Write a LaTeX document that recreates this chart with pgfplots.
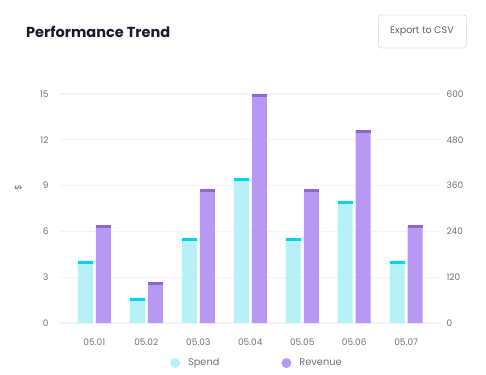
\documentclass[border=0pt]{standalone}
\usepackage{fontspec}
\setmainfont{Poppins}
\usepackage{pgfplots}
\pgfplotsset{compat=1.18}
\definecolor{spendc}{HTML}{B8F0F8}
\definecolor{spendcap}{HTML}{00D4F2}
\definecolor{revc}{HTML}{B799F4}
\definecolor{revcap}{HTML}{8A68CC}
\definecolor{gridc}{HTML}{F2F2F7}
\definecolor{tickc}{HTML}{6E6E7A}
\definecolor{titlec}{HTML}{1A1A2E}
\definecolor{btnc}{HTML}{E3E1F0}
\begin{document}
\begin{tikzpicture}[x=1pt,y=1pt]
\path[use as bounding box] (0,0) rectangle (486,374);
\node[anchor=west, text=titlec, font=\fontsize{14.5}{16}\selectfont\bfseries, inner sep=0] at (26,342) {Performance Trend};
\draw[btnc, line width=0.9pt, rounded corners=3pt] (378.5,326) rectangle (466.5,359);
\node[text=tickc!85!black, font=\fontsize{9.6}{11}\selectfont, inner sep=0] at (422,342.5) {Export to CSV};
\begin{axis}[
  at={(60pt,51pt)}, anchor=south west, scale only axis,
  width=380pt, height=229pt,
  xmin=-0.66, xmax=6.65, ymin=0, ymax=15,
  ytick={0,3,6,9,12,15},
  xtick={0,1,2,3,4,5,6},
  xticklabels={05.01,05.02,05.03,05.04,05.05,05.06,05.07},
  axis line style={draw=none},
  major tick length=0pt,
  ymajorgrids, grid style={gridc, line width=1.3pt},
  tick label style={font=\fontsize{9}{10}\selectfont, text=tickc},
  /pgf/number format/assume math mode=true,
  yticklabel style={anchor=east, xshift=-8pt},
  xticklabel style={anchor=north, yshift=-12pt},
  ylabel={\$},
  ylabel style={at={(axis description cs:-0.11,0.59)}, anchor=center, font=\fontsize{9}{10}\selectfont, text=tickc},
  clip=false,
]
\addplot[ybar, bar width=15pt, bar shift=-9pt, fill=spendc, draw=none]
  coordinates {(0,4.05) (1,1.65) (2,5.55) (3,9.48) (4,5.55) (5,8.0) (6,4.05)};
\addplot[only marks, mark=-, mark size=7.5pt, mark options={line width=3pt, draw=spendcap}, xshift=-9pt, yshift=-1.5pt, forget plot]
  coordinates {(0,4.05) (1,1.65) (2,5.55) (3,9.48) (4,5.55) (5,8.0) (6,4.05)};
\end{axis}
\begin{axis}[
  at={(60pt,51pt)}, anchor=south west, scale only axis,
  width=380pt, height=229pt,
  xmin=-0.66, xmax=6.65, ymin=0, ymax=600,
  ytick={0,120,240,360,480,600},
  axis y line*=right, axis x line=none,
  axis line style={draw=none},
  major tick length=0pt,
  tick label style={font=\fontsize{9}{10}\selectfont, text=tickc},
  /pgf/number format/assume math mode=true,
  yticklabel style={anchor=west, xshift=3pt},
  legend columns=2,
  legend style={at={(0.518,-0.175)}, anchor=center, draw=none, fill=none,
    font=\fontsize{9.8}{11}\selectfont, text=tickc,
    /tikz/every even column/.append style={column sep=60pt},
    /tikz/every odd column/.append style={column sep=6pt}},
  legend image code/.code={\fill[#1] (0pt,0pt) circle (5pt);},
  clip=false,
]
\addlegendimage{fill=spendc, draw=none}
\addlegendentry{Spend}
\addplot[ybar, bar width=15pt, bar shift=9pt, fill=revc, draw=none]
  coordinates {(0,256) (1,107) (2,351) (3,599) (4,351) (5,505) (6,256)};
\addlegendentry{Revenue}
\addplot[only marks, mark=-, mark size=7.5pt, mark options={line width=3pt, draw=revcap}, xshift=9pt, yshift=-1.5pt, forget plot]
  coordinates {(0,256) (1,107) (2,351) (3,599) (4,351) (5,505) (6,256)};
\end{axis}
\end{tikzpicture}
\end{document}
